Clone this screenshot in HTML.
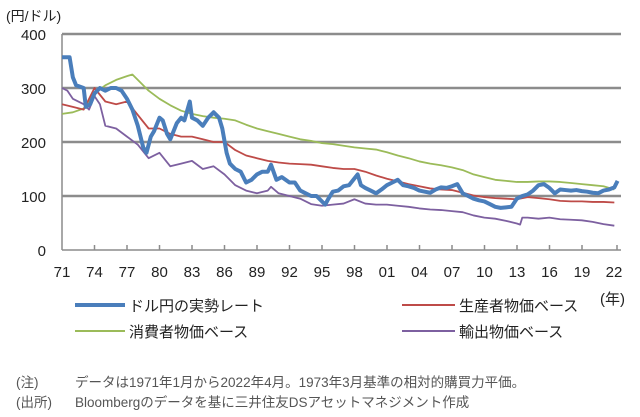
<!DOCTYPE html>
<html><head><meta charset="utf-8"><style>
body{margin:0;background:#fff;}
svg{display:block;font-family:"Liberation Sans","Noto Sans CJK JP",sans-serif;}
</style></head><body>
<svg width="640" height="417" viewBox="0 0 640 417" xmlns="http://www.w3.org/2000/svg">
<g stroke="#8c8c8c" stroke-width="2.5">
<line x1="62" y1="34" x2="621" y2="34"/>
<line x1="62" y1="88" x2="621" y2="88"/>
<line x1="62" y1="142" x2="621" y2="142"/>
<line x1="62" y1="196" x2="621" y2="196"/>
</g>
<g stroke="#8c8c8c" stroke-width="1.5">
<line x1="62" y1="34" x2="62" y2="250"/>
<line x1="62" y1="250" x2="621" y2="250"/>
<path d="M94.5 250v-5M127 250v-5M159.5 250v-5M192 250v-5M224.5 250v-5M257 250v-5M289.5 250v-5M322 250v-5M354.5 250v-5M387 250v-5M419.5 250v-5M452 250v-5M484.5 250v-5M517 250v-5M549.5 250v-5M582 250v-5M617 250v-5"/>
</g>
<g font-size="15" fill="#222" text-anchor="end">
<text x="46" y="40">400</text><text x="46" y="94">300</text><text x="46" y="148">200</text><text x="46" y="202">100</text><text x="46" y="256">0</text>
</g>
<text x="6" y="21" font-size="14" fill="#222">(円/ドル)</text>
<g font-size="15" fill="#222" text-anchor="middle">
<text x="62" y="277">71</text><text x="94.5" y="277">74</text><text x="127" y="277">77</text><text x="159.5" y="277">80</text><text x="192" y="277">83</text><text x="224.5" y="277">86</text><text x="257" y="277">89</text><text x="289.5" y="277">92</text><text x="322" y="277">95</text><text x="354.5" y="277">98</text><text x="387" y="277">01</text><text x="419.5" y="277">04</text><text x="452" y="277">07</text><text x="484.5" y="277">10</text><text x="517" y="277">13</text><text x="549.5" y="277">16</text><text x="582" y="277">19</text><text x="614" y="277">22</text>
</g>
<g transform="matrix(10.83 0 0 -0.54 62 250)" fill="none" stroke-linejoin="round">
<polyline vector-effect="non-scaling-stroke" stroke="#9bbb59" stroke-width="1.8" points="0,252 1,255 2,262 3,290 4,305 5,315 6,322 6.5,325 7,315 8,295 9,280 10,268 11,258 12,252 13,248 14,245 15,243 16,240 17,232 18,225 19,220 20,215 21,210 22,205 23,202 24,198 25,196 26,193 27,190 28,188 29,186 30,181 31,175 32,170 33,164 34,160 35,157 36,153 37,148 38,140 39,135 40,130 41,128 42,126 43,126 44,127 45,127 46,126 47,124 48,122 49,120 50,118 51,112"/>
<polyline vector-effect="non-scaling-stroke" stroke="#be4b48" stroke-width="1.8" points="0,270 1,265 2,260 3,300 4,275 5,270 6,275 7,250 8,225 9,225 10,215 11,210 12,210 13,205 14,200 15,200 16,185 17,175 18,170 19,165 20,162 21,160 22,159 23,158 24,155 25,152 26,150 27,150 28,145 29,138 30,132 31,127 32,122 33,118 34,114 35,112 36,111 37,106 38,101 39,98 40,96 41,95 42,94 43,98 44,96 45,94 46,91 47,90 48,90 49,89 50,89 51,88"/>
<polyline vector-effect="non-scaling-stroke" stroke="#7d60a0" stroke-width="1.8" points="0,300 0.5,295 1,280 2,270 2.5,260 3,285 3.5,270 4,230 5,225 6,210 7,195 8,170 9,180 10,155 11,160 12,165 13,150 14,155 15,140 16,120 17,110 18,105 19,110 19.3,117 20,105 21,100 22,95 23,85 24,82 25,84 26,86 27,94 28,86 29,84 30,84 31,82 32,80 33,77 34,75 35,74 36,72 37,70 38,64 39,60 40,58 41,54 42,49 42.3,47 42.5,60 43,60 44,58 45,60 46,57 47,56 48,55 49,52 50,48 51,45"/>
<polyline vector-effect="non-scaling-stroke" stroke="#4a7ebb" stroke-width="4" points="0,357 0.7,357 1,320 1.3,305 2,300 2.2,265 2.6,270 3,290 3.5,300 4,295 4.5,300 5,300 5.5,295 6,280 6.5,260 7,230 7.5,190 7.8,180 8.2,210 8.5,220 9,245 9.3,240 9.7,215 10,205 10.3,220 10.6,235 11,245 11.3,240 11.8,275 12,245 12.5,240 13,230 13.5,245 14,255 14.5,245 14.8,225 15.2,180 15.5,160 16,150 16.5,145 17,125 17.5,130 18,140 18.5,145 19,145 19.3,158 19.8,130 20.3,135 21,125 21.5,125 22,110 22.5,105 23,100 23.5,100 24.3,84 24.6,95 25,108 25.5,110 26,118 26.5,120 27.3,140 27.6,120 28,115 28.5,110 29,105 29.5,112 30,120 30.5,125 31,130 31.5,120 32,118 32.5,115 33,110 33.5,108 34,106 34.5,112 35,116 35.5,115 36,118 36.5,122 37,105 37.5,100 38,95 38.5,92 39,90 39.5,85 40,80 40.5,78 41,79 41.5,80 42,95 42.5,100 43,103 43.5,110 44,120 44.5,122 45,115 45.5,105 46,112 46.5,111 47,110 47.5,111 48,109 48.5,108 49,106 49.5,105 50,110 50.5,112 51,116 51.3,128"/>
</g>
<g stroke-width="4">
<line x1="75" y1="305" x2="125" y2="305" stroke="#4a7ebb"/>
</g>
<g stroke-width="2">
<line x1="402" y1="305" x2="455" y2="305" stroke="#be4b48"/>
<line x1="75" y1="331" x2="125" y2="331" stroke="#9bbb59"/>
<line x1="402" y1="331" x2="455" y2="331" stroke="#7d60a0"/>
</g>
<g font-size="15" fill="#222">
<text x="129" y="311">ドル円の実勢レート</text>
<text x="459" y="311">生産者物価ベース</text>
<text x="129" y="337">消費者物価ベース</text>
<text x="459" y="337">輸出物価ベース</text>
<text x="600" y="304">(年)</text>
</g>
<g font-size="13.5" fill="#555">
<text x="16" y="387">(注)</text>
<text x="75" y="387">データは1971年1月から2022年4月。1973年3月基準の相対的購買力平価。</text>
<text x="16" y="407">(出所)</text>
<text x="75" y="407">Bloombergのデータを基に三井住友DSアセットマネジメント作成</text>
</g>
</svg>
</body></html>
